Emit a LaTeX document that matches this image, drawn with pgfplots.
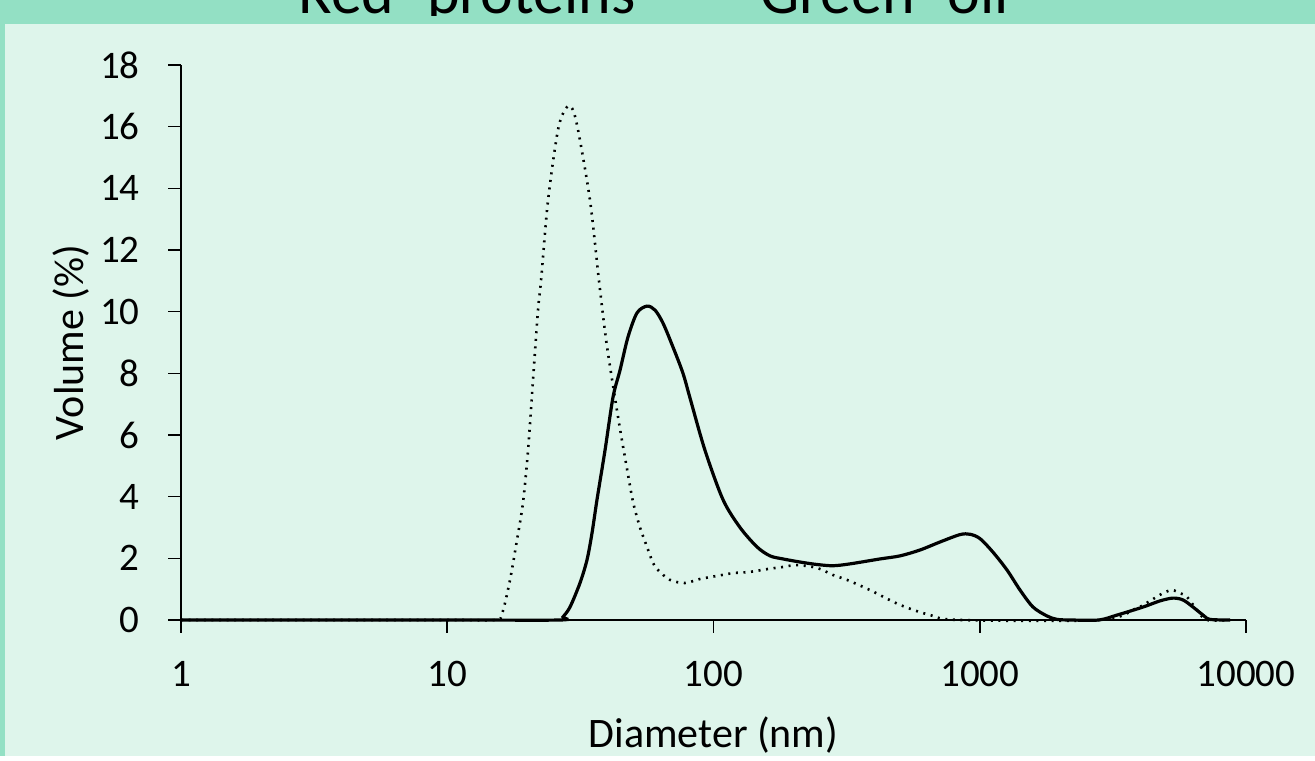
\documentclass[border=0pt]{standalone}
\usepackage{pgfplots}
\pgfplotsset{compat=1.18}
\usepackage{fontspec}
\setmainfont{Carlito}
\definecolor{mintbg}{RGB}{222,245,235}
\definecolor{mintband}{RGB}{147,224,196}

\begin{document}
\begin{tikzpicture}
% page frame: 1315 x 756 px at 0.5pt per px
\fill[mintbg] (0,0) rectangle (657.5pt,378pt);
\fill[mintband] (0,366pt) rectangle (657.5pt,378pt);
\fill[mintband] (0,0) rectangle (2.5pt,378pt);
\begin{scope}
  \clip (0,370pt) rectangle (657.5pt,378pt);
  \node[anchor=base west,inner sep=0pt,font=\fontsize{31}{36}\selectfont] at (149pt,371pt) {Red- proteins};
  \node[anchor=base west,inner sep=0pt,font=\fontsize{31}{36}\selectfont] at (380pt,371pt) {Green- oil};
\end{scope}
\begin{semilogxaxis}[
  at={(90.5pt,68pt)}, anchor=south west,
  scale only axis, width=532.5pt, height=277.5pt,
  xmin=1, xmax=10000, ymin=0, ymax=18,
  axis x line=bottom, axis y line=left,
  axis line style={-, line width=0.8pt},
  xtick={1,10,100,1000,10000},
  xticklabels={1,10,100,1000,10000},
  ytick={0,2,...,18},
  xminorticks=false,
  tick align=outside,
  major tick length=6.5pt,
  every tick/.style={black, line width=0.8pt},
  tick label style={font=\fontsize{19.5}{24}\selectfont},
  /pgf/number format/assume math mode=true,
  xticklabel style={anchor=base, yshift=-27pt},
  yticklabel style={anchor=east, inner sep=0pt, xshift=-14pt},
  xlabel={Diameter (nm)},
  ylabel={Volume (\%)},
  label style={font=\fontsize{21}{25}\selectfont},
  xlabel style={at={(axis description cs:0.5,0)}, anchor=base, yshift=-64pt},
  ylabel style={at={(axis description cs:0,0.5)}, anchor=center, yshift=55pt},
  clip=false,
]
% dotted series
\addplot[black, line width=1.3pt, dash pattern=on 1pt off 2.8pt, smooth, tension=0.5]
  coordinates {
  (1,0) (10,0) (15.1,0) (16.06,0.2) (17.21,1.3) (18.28,2.6) (19.25,3.8)
  (20.11,5.5) (21.00,7.8) (21.92,10.05) (22.50,11.0) (23.90,13.6)
  (26.06,15.9) (27.93,16.6) (29.42,16.6) (30.98,15.9) (34.38,13.6)
  (37.15,11.0) (39.48,9.1) (41.94,7.6) (44.55,6.2) (47.33,4.9)
  (49.86,3.83) (52.97,3.0) (56.27,2.37) (59.27,1.85) (61.88,1.62)
  (68.65,1.3) (78.16,1.2) (88.97,1.33) (103.1,1.43) (118.4,1.52)
  (137.1,1.56) (158.8,1.65) (182.4,1.72) (205.9,1.78) (244.7,1.69)
  (281.1,1.46) (317.3,1.3) (387.1,0.97) (501.9,0.49) (650.5,0.16)
  (843.1,0) (2829,0) (3896,0.39) (4359,0.62) (4879,0.87) (5275,0.97)
  (5651,0.87) (6003,0.75) (6546,0.32) (7137,0) (8710,0)
  };
% solid series
\addplot[black, line width=1.6pt, smooth, tension=0.5]
  coordinates {
  (1,0) (10,0) (26.5,0) (27.21,0.1) (28.91,0.42) (31.52,1.2) (33.49,1.95)
  (34.97,2.82) (36.51,3.9) (39.13,5.5) (41.94,7.23) (44.55,8.1)
  (47.74,9.18) (51.61,9.96) (56.27,10.18) (60.29,10.05) (64.60,9.63)
  (70.46,8.85) (76.82,8.0) (81.61,7.2) (92.92,5.5) (108.6,3.9)
  (125.8,3.0) (145.7,2.37) (163.0,2.08) (182.4,1.98) (211.3,1.88)
  (244.7,1.80) (281.1,1.76) (325.6,1.82) (422.2,1.98) (501.9,2.08)
  (596.6,2.27) (709.1,2.53) (843.1,2.77) (919.2,2.78) (1002,2.64)
  (1121,2.2) (1266,1.62) (1417,0.97) (1585,0.42) (1789,0.13)
  (1951,0.02) (2200,0) (2800,0) (3278,0.16) (4104,0.42) (4753,0.62) (5318,0.71)
  (5799,0.65) (6323,0.42) (6895,0.16) (7325,0.02) (8710,0)
  };
\end{semilogxaxis}
\useasboundingbox (0,0) rectangle (657.5pt,378pt);
\end{tikzpicture}
\end{document}
